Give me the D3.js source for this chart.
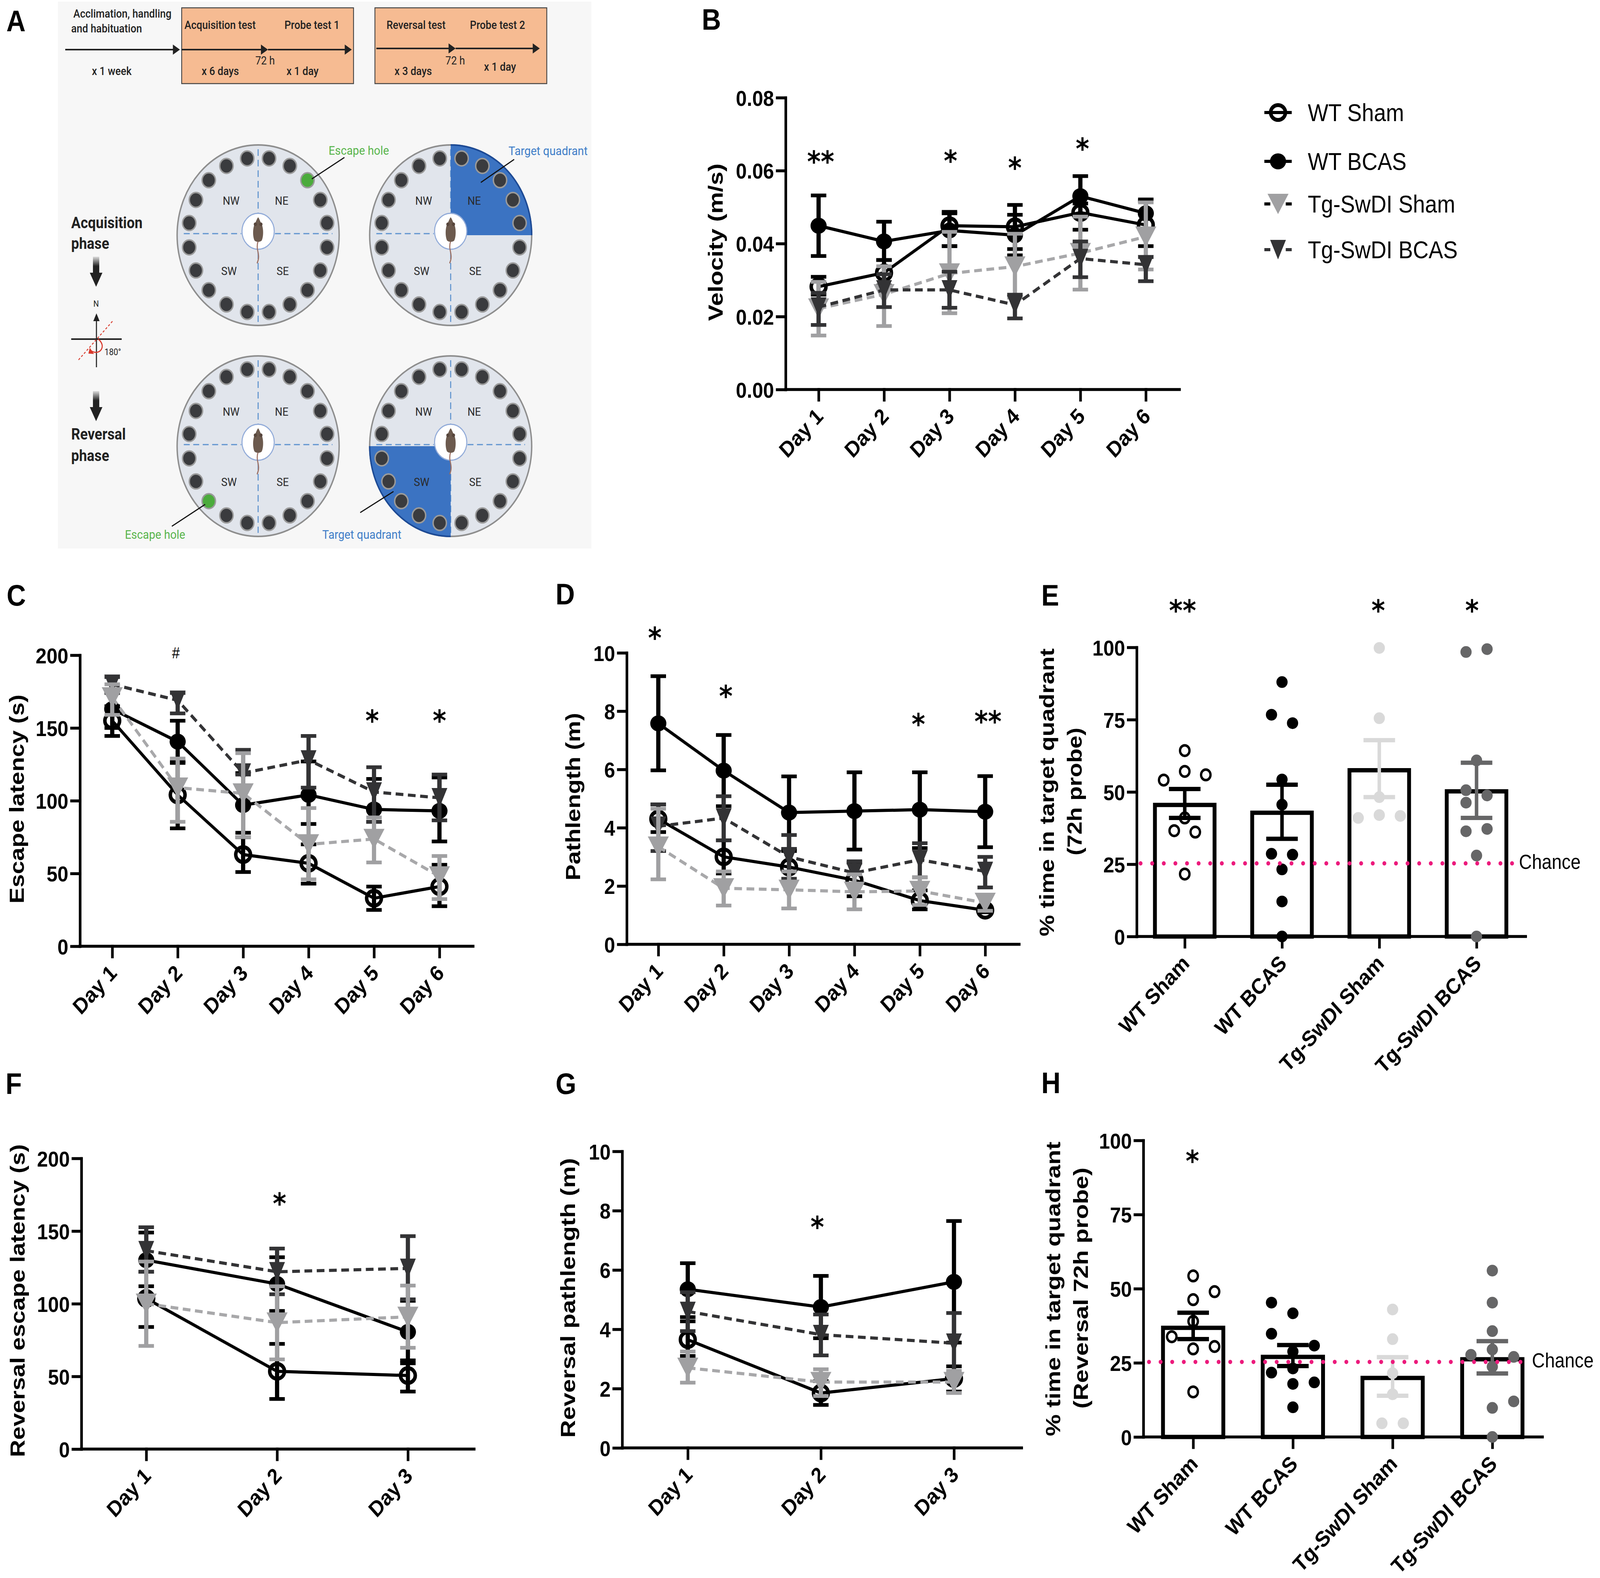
<!DOCTYPE html>
<html>
<head>
<meta charset="utf-8">
<script src="https://cdn.jsdelivr.net/npm/d3@7"></script>
<style>
  html, body { margin: 0; padding: 0; background: #fff; overflow: hidden; }
  svg { display: block; width: 100vw; height: 100vh; }
  text { font-family: "Liberation Sans", Arial, sans-serif; fill: #000; }
</style>
</head>
<body>
<div id="chart"></div>
<script>
// ---- data ----
const days6 = ["Day 1", "Day 2", "Day 3", "Day 4", "Day 5", "Day 6"]
const days3 = ["Day 1", "Day 2", "Day 3"]
const groups = ["WT Sham", "WT BCAS", "Tg-SwDI Sham", "Tg-SwDI BCAS"]

// B velocity
const bShamMean = [0.0282, 0.0320, 0.0449, 0.0446, 0.0485, 0.0451]
const bShamHi = [0.0309, 0.0355, 0.0483, 0.0479, 0.0510, 0.0517]
const bShamLo = [0.0260, 0.0285, 0.0393, 0.0385, 0.0438, 0.0393]
const bBcasMean = [0.0449, 0.0406, 0.0436, 0.0423, 0.0530, 0.0483]
const bBcasHi = [0.0532, 0.0460, 0.0487, 0.0506, 0.0585, 0.0521]
const bBcasLo = [0.0366, 0.0355, 0.0393, 0.0368, 0.0479, 0.0440]
const bTgShamMean = [0.0222, 0.0261, 0.0318, 0.0337, 0.0374, 0.0419]
const bTgShamHi = [0.0295, 0.0338, 0.0432, 0.0427, 0.0474, 0.0513]
const bTgShamLo = [0.0148, 0.0174, 0.0209, 0.0252, 0.0274, 0.0329]
const bTgBcasMean = [0.0226, 0.0273, 0.0273, 0.0232, 0.0359, 0.0342]
const bTgBcasHi = [0.0265, 0.0316, 0.0323, 0.0260, 0.0406, 0.0363]
const bTgBcasLo = [0.0177, 0.0226, 0.0224, 0.0195, 0.0308, 0.0297]
const bStars = [["Day 1", 0.0632, "**"], ["Day 3", 0.0634, "*"], ["Day 4", 0.0615, "*"], ["Day 5", 0.0667, "*"]]

// C escape latency
const cShamMean = [155, 104, 63, 57, 33, 41]
const cShamHi = [165, 127, 78, 70, 41, 56]
const cShamLo = [144.5, 81, 51, 43, 25, 27.5]
const cBcasMean = [163, 140.6, 97, 104, 94, 93]
const cBcasHi = [175, 155, 119, 127, 115, 116]
const cBcasLo = [150, 126, 75, 84, 85.5, 72]
const cTgShamMean = [171, 109, 105, 70, 73.7, 48]
const cTgShamHi = [180, 129, 132.7, 95, 88.5, 62]
const cTgShamLo = [159, 85.5, 75, 46, 57.6, 32.4]
const cTgBcasMean = [180, 169, 119, 128, 106, 102]
const cTgBcasHi = [185, 174, 135, 144.5, 123, 118]
const cTgBcasLo = [174, 160, 118, 109, 85.5, 86.5]
const cStars = [["Day 5", 156.7, "*"], ["Day 6", 156.7, "*"]]
const cHash = [["Day 2", 201.6, "#"]]

// D pathlength
const dShamMean = [4.3, 3.0, 2.65, 2.2, 1.5, 1.17]
const dShamHi = [4.8, 3.57, 3.2, 2.8, 1.85, 1.25]
const dShamLo = [3.85, 2.43, 2.1, 1.65, 1.2, 1.1]
const dBcasMean = [7.58, 5.96, 4.52, 4.57, 4.62, 4.55]
const dBcasHi = [9.2, 7.18, 5.76, 5.9, 5.9, 5.77]
const dBcasLo = [5.97, 4.74, 3.27, 3.25, 3.3, 3.33]
const dTgShamMean = [3.35, 1.92, 1.87, 1.8, 1.83, 1.42]
const dTgShamHi = [4.65, 2.5, 2.5, 2.4, 2.3, 1.7]
const dTgShamLo = [2.23, 1.33, 1.23, 1.2, 1.35, 1.15]
const dTgBcasMean = [4.05, 4.33, 3.0, 2.45, 2.9, 2.5]
const dTgBcasHi = [4.8, 5.08, 3.75, 2.85, 3.47, 3.0]
const dTgBcasLo = [3.2, 3.57, 2.25, 2.05, 2.3, 1.95]
const dStars = [["Day 1", 10.6, "*"], ["Day 2", 8.6, "*"], ["Day 5", 7.64, "*"], ["Day 6", 7.74, "**"]]

// E probe
const eMeans = [45.5, 42.8, 57.5, 50.2]
const eHi = [51, 52.5, 67.9, 60.1]
const eLo = [41, 33.8, 48.2, 41]
const eShamDots = [64.3, 54.1, 57.1, 55.9, 41, 36.6, 36.1, 21.6]
const eShamSlots = [0, -2, 0, 2, 0, -1, 1, 0]
const eBcasDots = [88, 76.7, 73.8, 54.3, 45.6, 28.6, 28.3, 23.2, 12.1, 0]
const eBcasSlots = [0, -1, 1, 0, 0, -1, 1, 0, 0, 0]
const eTgShamDots = [99.8, 75.5, 48.2, 41, 42, 41.7]
const eTgShamSlots = [0, 0, 0, -2, 0, 2]
const eTgBcasDots = [98.4, 99.4, 60.9, 50.6, 48.8, 46.3, 36.4, 37.2, 28, 0]
const eTgBcasSlots = [-1, 1, 0, -1, 1, -1, -1, 1, 0, 0]
const eStars = [["WT Sham", 113.7, "**"], ["Tg-SwDI Sham", 113.7, "*"], ["Tg-SwDI BCAS", 113.7, "*"]]

// F reversal latency
const fShamMean = [103.6, 53.5, 50.6]
const fShamHi = [112, 72.4, 61]
const fShamLo = [84, 34.5, 39.6]
const fBcasMean = [130, 113.6, 80.6]
const fBcasHi = [149, 132, 102]
const fBcasLo = [122, 95, 59]
const fTgShamMean = [100, 87, 91]
const fTgShamHi = [129, 112, 112.5]
const fTgShamLo = [71, 61.7, 69.7]
const fTgBcasMean = [136.5, 122, 124.3]
const fTgBcasHi = [152.6, 138, 146.5]
const fTgBcasLo = [122, 106.5, 103]
const fStars = [["Day 2", 170.8, "*"]]

// G reversal pathlength
const gShamMean = [3.65, 1.85, 2.34]
const gShamHi = [4.27, 2.25, 2.75]
const gShamLo = [3.1, 1.45, 1.9]
const gBcasMean = [5.35, 4.75, 5.6]
const gBcasHi = [6.23, 5.8, 7.65]
const gBcasLo = [4.41, 3.7, 3.55]
const gTgShamMean = [2.7, 2.22, 2.22]
const gTgShamHi = [3.25, 2.65, 2.6]
const gTgShamLo = [2.2, 1.75, 1.85]
const gTgBcasMean = [4.6, 3.82, 3.53]
const gTgBcasHi = [5.25, 4.5, 4.55]
const gTgBcasLo = [3.94, 3.12, 2.5]
const gStars = [["Day 2", 7.54, "*"]]

// H reversal probe
const hMeans = [36.8, 27, 19.9, 26.2]
const hHi = [41.9, 31, 26.9, 32.3]
const hLo = [33, 23.9, 13.9, 21.4]
const hShamDots = [54.3, 49, 46.3, 39, 33.8, 29.7, 30.5, 15.2]
const hShamSlots = [0, 2, 0, 0, -2, 0, 2, 0]
const hBcasDots = [45.3, 41.7, 34.8, 30.8, 28.8, 23.1, 21.7, 18.4, 17.9, 10]
const hBcasSlots = [-2, 0, -2, 2, 0, 0, -2, 2, 0, 0]
const hTgShamDots = [43, 33, 21.5, 14.4, 4.6, 4.6]
const hTgShamSlots = [0, 0, 0, 0, -1, 1]
const hTgBcasDots = [56.1, 45.3, 35.7, 29.5, 27.7, 27, 23.7, 12, 9.8, 0]
const hTgBcasSlots = [0, 0, 0, 0, -2, 2, 0, 2, 0, 0]
const hStars = [["WT Sham", 93.9, "*"]]

const chance = 25.3

// ---- drawing ----
// the window can come out narrower than the figure, so the viewBox always fills it
const svg = d3.select("#chart").append("svg")
    .attr("viewBox", "0 0 4562 4039")
    .attr("preserveAspectRatio", "none")
const black = "#000", darkGrey = "#333335", midGrey = "#a0a0a2"
const dotColors = ["#000", "#000", "#d9d9d9", "#666667"]
const tickFont = 56

function triangle(g, color, w, h) {
    const side = 20
    return g.append("path")
        .attr("d", d3.symbol(d3.symbolTriangle, 0.433 * side * side)())
        .attr("transform", `translate(0,${-h / 6}) rotate(180) scale(${w / side},${h / (0.866 * side)})`)
        .attr("fill", color)
}

function drawMarker(g, kind) {
    if (kind === 0) g.append("ellipse").attr("rx", 21).attr("ry", 19).attr("fill", "none").attr("stroke", black).attr("stroke-width", 10)
    if (kind === 1) g.append("ellipse").attr("rx", 23).attr("ry", 20.5).attr("fill", black)
    if (kind === 2) triangle(g, midGrey, 60, 52)
    if (kind === 3) triangle(g, darkGrey, 45, 50)
}

function axes(p, g, x, y, ticks, fmt) {
    const yAxis = d3.axisLeft(y).tickValues(ticks).tickSize(24).tickPadding(9).tickSizeOuter(0).tickFormat(fmt)
    const ya = g.append("g").attr("transform", `translate(${p.x0},0)`).call(yAxis)
    const xAxis = d3.axisBottom(x).tickSize(27).tickSizeOuter(0)
    const xa = g.append("g").attr("transform", `translate(0,${p.yBot})`).call(xAxis)
    xa.select(".domain").remove()
    xa.append("line").attr("x1", p.x0).attr("x2", p.xEnd).attr("stroke", black)
    for (const a of [ya, xa]) {
        a.selectAll("path,line").attr("stroke", black).attr("stroke-width", 7.5).attr("stroke-linecap", "square")
        a.selectAll("text").attr("font-size", tickFont).attr("font-weight", "bold").attr("fill", black)
            .style("font-family", "'Liberation Sans'")
    }
    ya.selectAll("text").attr("dy", "0.36em")
    xa.selectAll("text")
        .attr("y", 0).attr("dy", 0)
        .attr("text-anchor", "end")
        .attr("transform", "translate(16,72) rotate(-45)")
}

function titles(list) {
    for (const t of list) {
        svg.append("text")
            .attr("transform", `translate(${t.x},${t.y}) rotate(-90)`)
            .attr("text-anchor", "middle")
            .attr("dominant-baseline", "central")
            .attr("textLength", t.len)
            .attr("lengthAdjust", "spacingAndGlyphs")
            .attr("font-size", 58)
            .attr("font-weight", "bold")
            .text(t.text)
    }
}

function stars(list, x, y, dx) {
    list.forEach((s, i) => {
        svg.append("text")
            .attr("x", x(s[0]) + (dx ? dx[i] : 0))
            .attr("y", y(s[1]))
            .attr("dy", 33)
            .attr("text-anchor", "middle")
            .style("font-family", "'DejaVu Sans'")
            .attr("font-weight", "bold")
            .attr("font-size", 74)
            .text(s[2])
    })
}

function lineChart(p) {
    const g = svg.append("g")
    const x = d3.scalePoint().domain(p.days).range([p.first, p.last])
    const y = d3.scaleLinear().domain([0, p.max]).range([p.yBot, p.yTop])
    const path = d3.line().x((v, i) => x(p.days[i])).y(v => y(v))
    const styles = [
        { color: black, dash: null },
        { color: black, dash: null },
        { color: midGrey, dash: "22 13" },
        { color: darkGrey, dash: "22 13" }
    ]

    axes(p, g, x, y, p.ticks, p.fmt)

    p.order.forEach(k => {
        const s = p.series[k], st = styles[k]
        const sg = g.append("g").attr("class", "series" + k)
        p.days.forEach((day, i) => {
            sg.append("line").attr("x1", x(day)).attr("x2", x(day))
                .attr("y1", y(s[1][i])).attr("y2", y(s[2][i]))
                .attr("stroke", st.color).attr("stroke-width", 12)
            for (const v of [s[1][i], s[2][i]]) {
                sg.append("line").attr("x1", x(day) - 22).attr("x2", x(day) + 22)
                    .attr("y1", y(v)).attr("y2", y(v))
                    .attr("stroke", st.color).attr("stroke-width", 9.5)
            }
        })
        sg.append("path").attr("d", path(s[0])).attr("fill", "none")
            .attr("stroke", k === 2 ? "#a8a8aa" : st.color).attr("stroke-width", 8)
            .attr("stroke-dasharray", st.dash)
        p.days.forEach((day, i) => {
            drawMarker(sg.append("g").attr("transform", `translate(${x(day)},${y(s[0][i])})`), k)
        })
    })

    stars(p.stars, x, y, p.starDx)
    return { x, y }
}

function barChart(p) {
    const g = svg.append("g")
    const x = d3.scalePoint().domain(groups).range([p.first, p.last])
    const y = d3.scaleLinear().domain([0, 100]).range([p.yBot, p.yTop])

    groups.forEach((name, k) => {
        g.append("rect")
            .attr("x", x(name) - p.barW / 2).attr("width", p.barW)
            .attr("y", y(p.means[k])).attr("height", y(0) - y(p.means[k]))
            .attr("fill", "#fff").attr("stroke", black).attr("stroke-width", 11)
    })
    axes(p, g, x, y, [0, 25, 50, 75, 100], d3.format("d"))

    groups.forEach((name, k) => {
        p.dots[k].forEach((v, i) => {
            g.append("ellipse")
                .attr("cx", x(name) + p.slots[k][i] * p.slotW).attr("cy", y(v))
                .attr("rx", k === 0 ? 13.5 : 16).attr("ry", k === 0 ? 13.5 : 15)
                .attr("fill", k === 0 ? "none" : dotColors[k])
                .attr("stroke", k === 0 ? black : "none").attr("stroke-width", 6.5)
        })
        const c = k > 1 ? (k === 2 ? "#d9d9d9" : "#666667") : black
        g.append("line").attr("x1", x(name)).attr("x2", x(name))
            .attr("y1", y(p.hi[k])).attr("y2", y(p.lo[k]))
            .attr("stroke", c).attr("stroke-width", 10)
        for (const v of [p.hi[k], p.lo[k]]) {
            g.append("line").attr("x1", x(name) - 45).attr("x2", x(name) + 45)
                .attr("y1", y(v)).attr("y2", y(v))
                .attr("stroke", c).attr("stroke-width", 11)
        }
    })

    g.append("line")
        .attr("x1", p.chanceFrom).attr("x2", p.chanceTo)
        .attr("y1", y(chance)).attr("y2", y(chance))
        .attr("stroke", "#ec1a7c").attr("stroke-width", 11)
        .attr("stroke-linecap", "round").attr("stroke-dasharray", "0.1 33")
    g.append("text")
        .attr("x", p.chanceTo + 5).attr("y", y(chance) - 4)
        .attr("dominant-baseline", "central")
        .attr("font-size", 51).text("Chance")

    stars(p.stars, x, y, p.starDx)
}

lineChart({
    days: days6, max: 0.08, ticks: [0, 0.02, 0.04, 0.06, 0.08], fmt: d3.format(".2f"),
    x0: 2240, xEnd: 3363, yTop: 250, yBot: 997, first: 2334, last: 3267,
    order: [0, 1, 2, 3],
    series: [[bShamMean, bShamHi, bShamLo], [bBcasMean, bBcasHi, bBcasLo], [bTgShamMean, bTgShamHi, bTgShamLo], [bTgBcasMean, bTgBcasHi, bTgBcasLo]],
    stars: bStars, starDx: [6, 3, 0, 6]
})

const cScales = lineChart({
    days: days6, max: 200, ticks: [0, 50, 100, 150, 200], fmt: d3.format("d"),
    x0: 228, xEnd: 1349, yTop: 1677, yBot: 2422, first: 320, last: 1253,
    order: [0, 1, 3, 2],
    series: [[cShamMean, cShamHi, cShamLo], [cBcasMean, cBcasHi, cBcasLo], [cTgShamMean, cTgShamHi, cTgShamLo], [cTgBcasMean, cTgBcasHi, cTgBcasLo]],
    stars: cStars, starDx: [-5, 0]
})
svg.append("text")
    .attr("x", cScales.x(cHash[0][0]) - 5).attr("y", cScales.y(cHash[0][1]))
    .attr("dy", 14).attr("text-anchor", "middle")
    .attr("font-size", 40).text(cHash[0][2])

lineChart({
    days: days6, max: 10, ticks: [0, 2, 4, 6, 8, 10], fmt: d3.format("d"),
    x0: 1787, xEnd: 2906, yTop: 1671, yBot: 2417, first: 1877, last: 2809,
    order: [0, 1, 3, 2],
    series: [[dShamMean, dShamHi, dShamLo], [dBcasMean, dBcasHi, dBcasLo], [dTgShamMean, dTgShamHi, dTgShamLo], [dTgBcasMean, dTgBcasHi, dTgBcasLo]],
    stars: dStars, starDx: [-10, 6, -4, 8]
})

barChart({
    means: eMeans, hi: eHi, lo: eLo,
    dots: [eShamDots, eBcasDots, eTgShamDots, eTgBcasDots],
    slots: [eShamSlots, eBcasSlots, eTgShamSlots, eTgBcasSlots],
    x0: 3241, xEnd: 4350, yTop: 1657, yBot: 2397, first: 3378, last: 4210,
    barW: 170, slotW: 30, chanceFrom: 3252, chanceTo: 4326,
    stars: eStars, starDx: [-6, -3, -13]
})

lineChart({
    days: days3, max: 200, ticks: [0, 50, 100, 150, 200], fmt: d3.format("d"),
    x0: 232, xEnd: 1352, yTop: 2965, yBot: 3709, first: 417, last: 1163,
    order: [0, 1, 3, 2],
    series: [[fShamMean, fShamHi, fShamLo], [fBcasMean, fBcasHi, fBcasLo], [fTgShamMean, fTgShamHi, fTgShamLo], [fTgBcasMean, fTgBcasHi, fTgBcasLo]],
    stars: fStars, starDx: [7]
})

lineChart({
    days: days3, max: 10, ticks: [0, 2, 4, 6, 8, 10], fmt: d3.format("d"),
    x0: 1774, xEnd: 2913, yTop: 2947, yBot: 3706, first: 1961, last: 2720,
    order: [0, 1, 3, 2],
    series: [[gShamMean, gShamHi, gShamLo], [gBcasMean, gBcasHi, gBcasLo], [gTgShamMean, gTgShamHi, gTgShamLo], [gTgBcasMean, gTgBcasHi, gTgBcasLo]],
    stars: gStars, starDx: [-10]
})

barChart({
    means: hMeans, hi: hHi, lo: hLo,
    dots: [hShamDots, hBcasDots, hTgShamDots, hTgBcasDots],
    slots: [hShamSlots, hBcasSlots, hTgShamSlots, hTgBcasSlots],
    x0: 3260, xEnd: 4398, yTop: 2919, yBot: 3678, first: 3402, last: 4255,
    barW: 172, slotW: 30.5, chanceFrom: 3276, chanceTo: 4363,
    stars: hStars, starDx: [-2]
})

titles([
    { text: "Velocity (m/s)", x: 2041, y: 620, len: 403 },
    { text: "Escape latency (s)", x: 48, y: 2045, len: 535 },
    { text: "Pathlength (m)", x: 1634, y: 2039, len: 429 },
    { text: "% time in target quadrant", x: 2985, y: 2028, len: 737 },
    { text: "(72h probe)", x: 3064, y: 2026, len: 327 },
    { text: "Reversal escape latency (s)", x: 50, y: 3329, len: 801 },
    { text: "Reversal pathlength (m)", x: 1620, y: 3322, len: 716 },
    { text: "% time in target quadrant", x: 3003, y: 3299, len: 754 },
    { text: "(Reversal 72h probe)", x: 3082, y: 3297, len: 617 }
])

// panel letters
const letters = [["A", 18, 80], ["B", 2001, 76], ["C", 19, 1550], ["D", 1584, 1547], ["E", 2969, 1550], ["F", 16, 2800], ["G", 1584, 2800], ["H", 2969, 2798]]
letters.forEach(l => {
    svg.append("text").attr("x", l[1]).attr("y", l[2])
        .attr("font-size", 76).attr("font-weight", "bold").text(l[0])
})

// legend
const legendY = [288, 413, 522, 639]
groups.forEach((name, k) => {
    const lg = svg.append("g").attr("transform", `translate(3644,${legendY[k]})`)
    lg.append("line").attr("x1", -39).attr("x2", 39)
        .attr("stroke", k === 3 ? darkGrey : black).attr("stroke-width", 8)
        .attr("stroke-dasharray", k > 1 ? "17 44 17" : null)
    drawMarker(lg, k)
    lg.append("text").attr("x", 85).attr("dy", "0.36em").attr("font-size", 62).text(name)
})

// ---- panel A schematic ----
const a = svg.append("g").attr("class", "panel-a")
a.append("rect").attr("x", 165).attr("y", 4).attr("width", 1521).attr("height", 1400).attr("fill", "#f7f7f7")

const defs = svg.append("defs")
const grad = defs.append("linearGradient").attr("id", "fade").attr("x1", 0).attr("x2", 0).attr("y1", 0).attr("y2", 1)
grad.append("stop").attr("offset", 0).attr("stop-color", "#ddd")
grad.append("stop").attr("offset", 0.55).attr("stop-color", "#222")

function aText(str, x, y, o = {}) {
    return a.append("text").attr("x", x).attr("y", y)
        .style("font-family", "Roboto")
        .attr("font-size", o.size || 29)
        .attr("font-weight", o.weight || 500)
        .style("fill", o.fill || "#222")
        .attr("text-anchor", o.anchor || "start")
        .text(str)
}

function timeArrow(x1, x2, yy) {
    a.append("line").attr("x1", x1).attr("x2", x2 - 10).attr("y1", yy).attr("y2", yy).attr("stroke", "#222").attr("stroke-width", 4)
    a.append("path").attr("d", `M${x2 - 20},${yy - 13}L${x2},${yy}L${x2 - 20},${yy + 13}Z`).attr("fill", "#222")
}

for (const bx of [518, 1069]) {
    a.append("rect").attr("x", bx).attr("y", 20).attr("width", 490).attr("height", 194)
        .attr("fill", "#f6bb92").attr("stroke", "#444").attr("stroke-width", 2.5)
}
timeArrow(186, 513, 127)
timeArrow(518, 764, 127)
timeArrow(764, 1003, 127)
timeArrow(1073, 1299, 124)
timeArrow(1299, 1539, 124)

aText("Acclimation, handling", 209, 45)
aText("and habituation", 203, 83)
aText("x 1 week", 262, 192)
aText("Acquisition test", 526, 74)
aText("Probe test 1", 811, 74)
aText("x 6 days", 575, 192)
aText("72 h", 728, 165, { weight: 400 })
aText("x 1 day", 817, 192)
aText("Reversal test", 1102, 74)
aText("Probe test 2", 1340, 74)
aText("x 3 days", 1125, 192)
aText("72 h", 1270, 165, { weight: 400 })
aText("x 1 day", 1380, 181)

const maze = [
    { cx: 736, cy: 602, green: 45, quad: null },
    { cx: 1285, cy: 602, green: null, quad: [0, Math.PI / 2] },
    { cx: 736, cy: 1142, green: 225, quad: null },
    { cx: 1285, cy: 1142, green: null, quad: [Math.PI, Math.PI * 1.5] }
]
const holeAngles = d3.range(9, 360, 18)
const quadLabels = [["NW", -77, -88], ["NE", 67, -88], ["SW", -83, 92], ["SE", 70, 92]]

maze.forEach(m => {
    const mg = a.append("g").attr("transform", `translate(${m.cx},${m.cy})`)
    mg.append("circle").attr("r", 231).attr("fill", "#e1e5ec").attr("stroke", "#8e8e8e").attr("stroke-width", 4)
    for (const [x1, y1, x2, y2] of [[-212, -4, -48, -4], [48, -4, 212, -4], [0, -220, 0, -52], [0, 44, 0, 222]]) {
        mg.append("line").attr("x1", x1).attr("y1", y1).attr("x2", x2).attr("y2", y2)
            .attr("stroke", "#5f93cf").attr("stroke-width", 3).attr("stroke-dasharray", "17 10")
    }
    if (m.quad) {
        const arc = d3.arc().startAngle(m.quad[0]).endAngle(m.quad[1])
        mg.append("path").attr("d", arc({ innerRadius: 0, outerRadius: 232 })).attr("fill", "#3b73c2")
        mg.append("path").attr("d", arc({ innerRadius: 229, outerRadius: 233 })).attr("fill", "#1c4a96")
    }
    holeAngles.forEach(deg => {
        const rad = deg * Math.PI / 180
        mg.append("circle")
            .attr("cx", 199 * Math.sin(rad)).attr("cy", -199 * Math.cos(rad))
            .attr("r", 19)
            .attr("fill", deg === m.green ? "#4bab3c" : "#3a3b3e")
            .attr("stroke", "#9a9a9a").attr("stroke-width", 4)
    })
    quadLabels.forEach(q => {
        mg.append("text").attr("x", q[1]).attr("y", q[2])
            .attr("text-anchor", "middle").attr("dominant-baseline", "central")
            .style("font-family", "Roboto").attr("font-size", 30).style("fill", "#2a2a2a").text(q[0])
    })
    mg.append("circle").attr("cy", -10).attr("r", 46).attr("fill", "#fff").attr("stroke", "#93acd9").attr("stroke-width", 3)
    mg.append("path").attr("d", "M0,15 C-9,38 9,48 -3,72").attr("fill", "none").attr("stroke", "#9c6f62").attr("stroke-width", 3)
    mg.append("path")
        .attr("d", "M0,-46 C5,-40 7,-32 11,-26 C16,-14 15,6 10,14 C5,18 -5,18 -10,14 C-15,6 -16,-14 -11,-26 C-7,-32 -5,-40 0,-46Z")
        .attr("fill", "#6c5a4e")
    for (const side of [-1, 1]) {
        mg.append("circle").attr("cx", side * 8).attr("cy", -28).attr("r", 4.5).attr("fill", "#57463c")
    }
})

const leaders = [[982, 403, 889, 458], [1466, 408, 1371, 467], [490, 1347, 585, 1291], [1027, 1312, 1122, 1258]]
leaders.forEach(l => {
    a.append("line").attr("x1", l[0]).attr("y1", l[1]).attr("x2", l[2]).attr("y2", l[3])
        .attr("stroke", "#111").attr("stroke-width", 3)
})
aText("Escape hole", 937, 396, { weight: 400, size: 32, fill: "#59b54c" })
aText("Target quadrant", 1450, 397, { weight: 400, size: 32, fill: "#3f7ec8" })
aText("Escape hole", 356, 1379, { weight: 400, size: 32, fill: "#59b54c" })
aText("Target quadrant", 919, 1379, { weight: 400, size: 32, fill: "#3f7ec8" })

aText("Acquisition", 203, 584, { size: 40, weight: 700 })
aText("phase", 203, 637, { size: 40, weight: 700 })
aText("Reversal", 203, 1125, { size: 40, weight: 700 })
aText("phase", 203, 1180, { size: 40, weight: 700 })

for (const top of [657, 1001]) {
    a.append("rect").attr("x", 265).attr("y", top).attr("width", 18).attr("height", 44).attr("fill", "url(#fade)")
    a.append("path").attr("d", `M256,${top + 41}L292,${top + 41}L274,${top + 77}Z`).attr("fill", "#222")
}

aText("N", 274, 785, { size: 22, weight: 400, anchor: "middle" })
a.append("line").attr("x1", 275).attr("x2", 275).attr("y1", 812).attr("y2", 940).attr("stroke", "#222").attr("stroke-width", 3)
a.append("path").attr("d", "M266,822L275,802L284,822Z").attr("fill", "#222")
a.append("line").attr("x1", 203).attr("x2", 347).attr("y1", 868).attr("y2", 868).attr("stroke", "#222").attr("stroke-width", 4)
a.append("line").attr("x1", 224).attr("y1", 921).attr("x2", 323).attr("y2", 820).attr("stroke", "#d8392b").attr("stroke-width", 2.5).attr("stroke-dasharray", "6 5")
a.append("path").attr("d", "M280,868 C305,885 285,912 260,898").attr("fill", "none").attr("stroke", "#d8392b").attr("stroke-width", 3)
a.append("path").attr("d", "M256,890L268,906L252,905Z").attr("fill", "#d8392b")
aText("180°", 298, 909, { size: 23, weight: 400 })
</script>
</body>
</html>
